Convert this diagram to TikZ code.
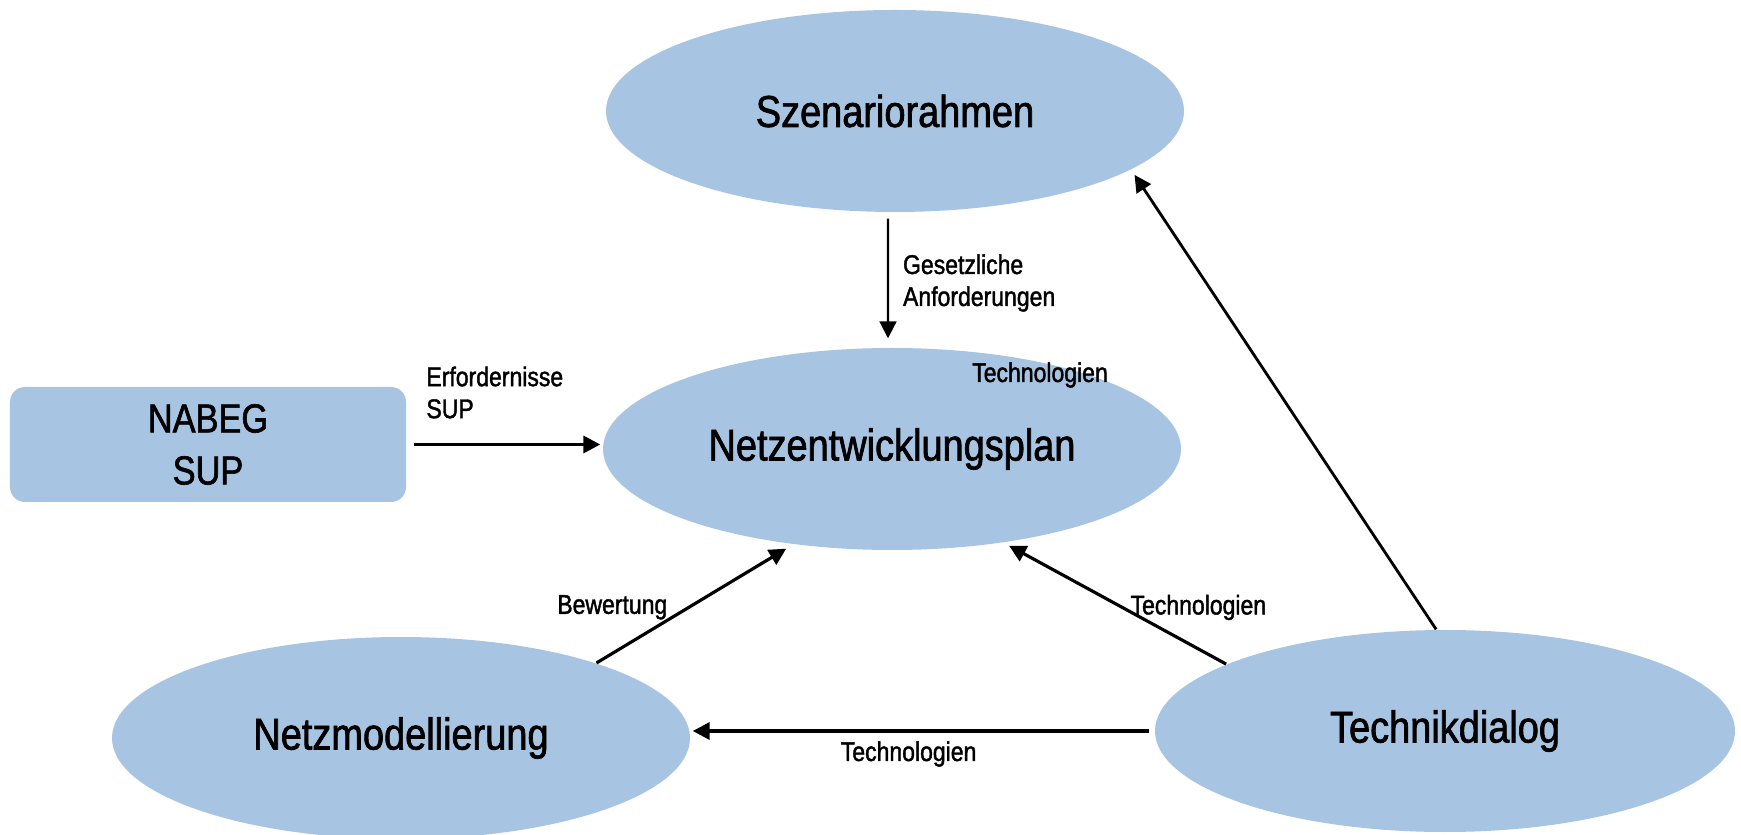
\documentclass[tikz,border=0pt]{standalone}
\usepackage{fontspec}
\setmainfont{Liberation Sans}[FakeStretch=0.85, FakeBold=1.5]
\usepackage{xcolor}
\usepackage{tikz}
\usetikzlibrary{shapes,arrows,positioning,calc,arrows.meta}
\definecolor{planblue}{RGB}{167,196,226}

\tikzset{
    oval/.style={ellipse, fill=planblue, inner sep=0pt, minimum width=5.78cm, minimum height=2.02cm, font=\fontsize{12.7}{15}\selectfont},
    lbl/.style={font=\fontsize{7.7}{9.1}\selectfont, align=left, inner sep=0pt},
    flow/.style={-{Triangle[length=4.8pt,width=4.8pt]}, line width=1pt},
    thinflow/.style={flow, line width=0.6pt}
}

\begin{document}
\begin{tikzpicture}
        \useasboundingbox (0,0) rectangle (17.41,-8.35);
        % the four plans
        \node[oval] (szen) at (8.95,-1.11) {Szenariorahmen};
        \node[oval] (nep) at (8.92,-4.49) {Netzentwicklungsplan};
        \node[oval] (netzmod) at (4.01,-7.38) {Netzmodellierung};
        \node[oval, minimum width=5.8cm] (technik) at (14.45,-7.31) {Technikdialog};
        \node[fill=planblue, rounded corners=0.15cm, minimum width=3.96cm, minimum height=1.15cm,
              align=center, font=\fontsize{11.5}{14.8}\selectfont] (nabeg) at (2.08,-4.445) {NABEG\\SUP};

        % connections
        \draw[thinflow, shorten <=0.06cm, shorten >=0.09cm] ([xshift=-0.07cm]szen.south) -- ([xshift=-0.04cm]nep.north)
            node[lbl, pos=0.5, anchor=west, xshift=0.14cm, yshift=-0.03cm] (gesetz) {Gesetzliche\\Anforderungen};
        \draw[flow, shorten <=0.07cm, shorten >=0.02cm] (nabeg.east) -- (nep.west |- nabeg.east);
        \node[lbl, anchor=west] (erf) at ([xshift=0.19cm,yshift=0.52cm]nabeg.east) {Erfordernisse\\SUP};
        \node[lbl] (techlbl) at ([xshift=1.48cm,yshift=0.74cm]nep.center) {Technologien};
        \draw[flow, line width=0.9pt, shorten >=0.08cm] (netzmod.21) -- (nep.224)
            node[lbl, pos=0.47, anchor=east, xshift=-0.2cm] (bew) {Bewertung};
        \draw[flow, line width=0.9pt, shorten >=0.06cm] (technik.163) -- (nep.320)
            node[lbl, pos=0.5, anchor=west, xshift=0.14cm, yshift=-0.04cm] (techtonep) {Technologien};
        \draw[flow, line width=0.8pt, shorten >=0.06cm] (technik.95) -- (szen.346);
        \draw[flow, shorten <=0.05cm, shorten >=0.02cm] (technik.west) -- (netzmod.east |- technik.west)
            node[lbl, pos=0.53, yshift=-0.23cm] (techtomod) {Technologien};
    \end{tikzpicture}
\end{document}
